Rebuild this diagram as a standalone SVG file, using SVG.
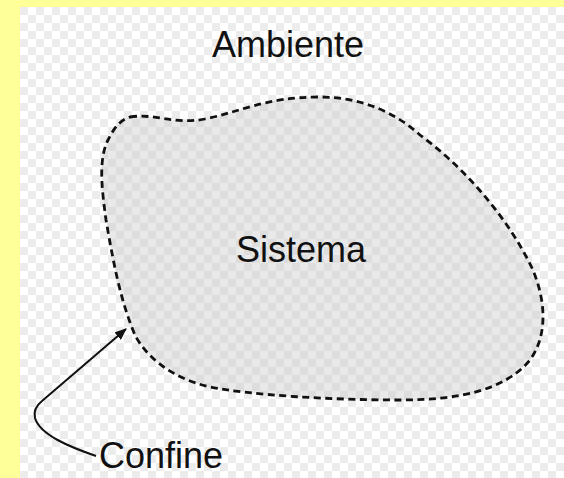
<svg xmlns="http://www.w3.org/2000/svg" width="564" height="478" viewBox="0 0 564 478">
  <style>
    .lbl { font-family: "Liberation Sans", Arial, sans-serif; font-size: 36px; fill: #111; }
    .boundary { fill: #c8c8c8; fill-opacity: 0.4; stroke: #111; stroke-width: 2.8; stroke-dasharray: 7 4.5; }
    .conn { fill: none; stroke: #111; stroke-width: 2; }
  </style>
  <defs>
    <pattern id="checker" x="20" y="7" width="16" height="16" patternUnits="userSpaceOnUse">
      <rect width="16" height="16" fill="#ffffff"/>
      <rect width="8" height="8" fill="#ececec"/>
      <rect x="8" y="8" width="8" height="8" fill="#ececec"/>
    </pattern>
    <marker id="arrow" viewBox="0 0 12 10" refX="11" refY="5" markerWidth="12" markerHeight="10" markerUnits="userSpaceOnUse" orient="auto">
      <path d="M0,0 L12,5 L0,10 Z" fill="#111"/>
    </marker>
  </defs>
  <rect x="0" y="0" width="564" height="478" fill="#ffff99"/>
  <rect x="20" y="7" width="544" height="471" fill="url(#checker)"/>

  <g id="ambiente">
    <text class="lbl" x="288" y="57" text-anchor="middle">Ambiente</text>
  </g>

  <g id="sistema">
    <path class="boundary" d="M 130,117 C 155,113 175,125 205,119 C 240,112 265,97 320,97 C 360,97 395,112 420,135 C 465,168 508,218 532,268 C 546,300 548,335 530,360 C 505,390 460,400 400,400 C 330,400 250,395 210,387 C 170,378 145,355 135,335 C 120,300 113,260 106,220 C 102,190 98,160 108,140 C 114,128 120,120 130,117 Z"/>
    <text class="lbl" x="301" y="262" text-anchor="middle">Sistema</text>
  </g>

  <g id="confine">
    <text class="lbl" x="99" y="468">Confine</text>
  </g>

  <g id="connectors">
    <path class="conn" d="M 96,456 C 70,447 40,435 35,418 C 33,410 37,405 42,401 L 126,329" marker-end="url(#arrow)"/>
  </g>
</svg>
